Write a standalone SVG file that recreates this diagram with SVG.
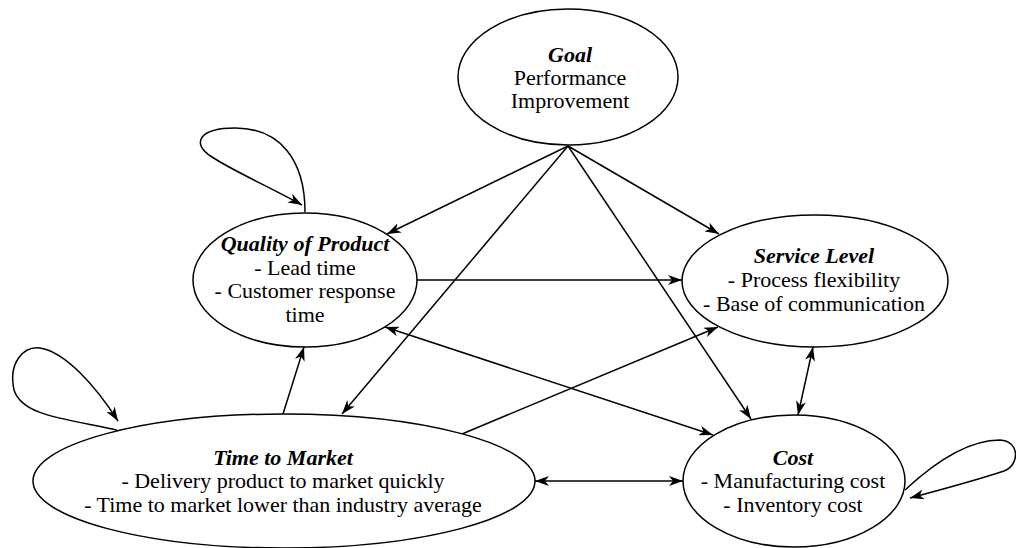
<svg xmlns="http://www.w3.org/2000/svg" width="1016" height="548" viewBox="0 0 1016 548">
<style>
.n{fill:#fff;stroke:#000;stroke-width:1.5}
.t{font-family:'Liberation Serif','Times New Roman',Times,serif;font-size:22px;fill:#000;text-anchor:middle}
.h{font-weight:bold;font-style:italic}
.e{fill:none;stroke:#000;stroke-width:1.5;marker-end:url(#a)}
.b{marker-start:url(#a)}
</style>
<defs>
<marker id="a" viewBox="0 0 14 10" refX="14" refY="5" markerWidth="14" markerHeight="10" markerUnits="userSpaceOnUse" orient="auto-start-reverse">
<path d="M0,0 L14,5 L0,10 L4,5 z" fill="#000"/>
</marker>
</defs>
<g id="connectors">
<path class="e" d="M568,146 L387,234"/>
<path class="e" d="M568,146 L719,234"/>
<path class="e" d="M568,146 L342,414"/>
<path class="e" d="M568,146 L751,419"/>
<path class="e" d="M417,280 L682,280"/>
<path class="e b" d="M385,327 L713,435"/>
<path class="e" d="M462,434 L718,327"/>
<path class="e" d="M283,414 L304,347"/>
<path class="e b" d="M813,347 L798,415"/>
<path class="e b" d="M535,481 L683,481"/>
<path class="e" d="M305,212 C305,160 280,128 235,128 C200,128 190,143 212,157 C235,172 270,187 302,205"/>
<path class="e" d="M117,430 C60,418 22,415 14,390 C8,362 24,346 40,348 C65,352 95,385 118,421"/>
<path class="e" d="M905,490 C935,462 968,440 1000,440 C1020,441 1020,465 1004,471 C980,479 940,490 910,498"/>
</g>
<g id="goal">
<ellipse class="n" cx="568" cy="77" rx="110" ry="68"/>
<text class="t" x="570" y="62"><tspan class="h">Goal</tspan><tspan x="570" y="85">Performance</tspan><tspan x="570" y="108">Improvement</tspan></text>
</g>
<g id="quality">
<ellipse class="n" cx="305" cy="280" rx="112" ry="67"/>
<text class="t" x="305" y="251"><tspan class="h">Quality of Product</tspan><tspan x="305" y="275">- Lead time</tspan><tspan x="305" y="298">- Customer response</tspan><tspan x="305" y="322">time</tspan></text>
</g>
<g id="service">
<ellipse class="n" cx="815" cy="281" rx="133" ry="66"/>
<text class="t" x="814" y="263"><tspan class="h">Service Level</tspan><tspan x="814" y="287">- Process flexibility</tspan><tspan x="814" y="311">- Base of communication</tspan></text>
</g>
<g id="time">
<ellipse class="n" cx="284" cy="481" rx="251" ry="67"/>
<text class="t" x="283" y="465"><tspan class="h">Time to Market</tspan><tspan x="283" y="488">- Delivery product to market quickly</tspan><tspan x="283" y="512">- Time to market lower than industry average</tspan></text>
</g>
<g id="cost">
<ellipse class="n" cx="794" cy="481" rx="111" ry="66"/>
<text class="t" x="793" y="465"><tspan class="h">Cost</tspan><tspan x="793" y="488">- Manufacturing cost</tspan><tspan x="793" y="512">- Inventory cost</tspan></text>
</g>
</svg>
